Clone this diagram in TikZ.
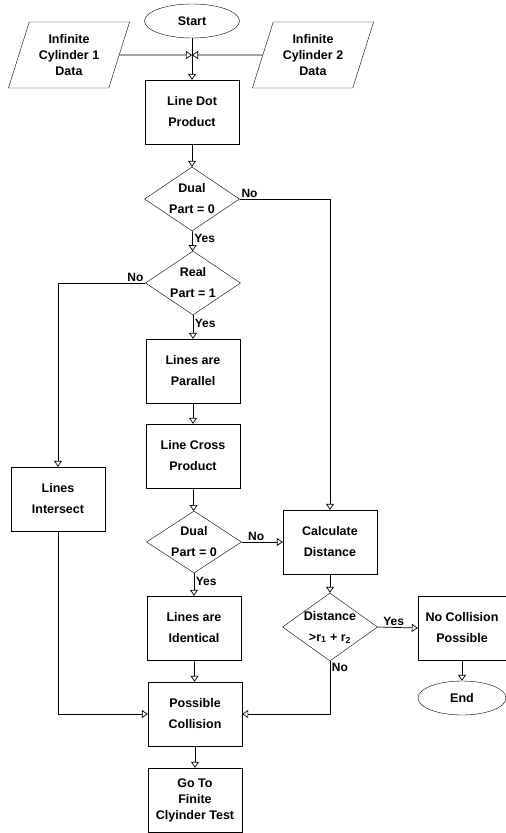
\documentclass[tikz,border=0pt]{standalone}
\usepackage{fontspec}
\setmainfont{Liberation Sans}
\usetikzlibrary{arrows.meta,shapes.geometric,positioning}
\tikzset{
  txt/.style={font=\bfseries\fontsize{12.5}{21}\selectfont, align=center},
  box/.style={draw, rectangle, txt, minimum width=94pt, minimum height=64pt, inner sep=1pt},
  term/.style={draw, ellipse, txt, minimum width=95pt, minimum height=34pt, inner sep=0pt},
  io/.style={draw, trapezium, trapezium left angle=69, trapezium right angle=111, trapezium stretches=true,
    txt, font=\bfseries\fontsize{12.5}{16}\selectfont, minimum width=122pt, minimum height=66pt, inner sep=0pt},
  decision/.style={draw, diamond, minimum width=95pt, minimum height=64pt, inner sep=0pt},
  flow/.style={double, double distance=1.5pt, line width=0.7pt, -{Triangle[open, length=6pt, width=8pt]}},
  lbl/.style={font=\bfseries\fontsize{12}{14}\selectfont, inner sep=1.5pt},
  hv/.style={to path={-| (\tikztotarget) \tikztonodes}},
  vh/.style={to path={|- (\tikztotarget) \tikztonodes}}
}
\begin{document}
\begin{tikzpicture}[x=1pt,y=-1pt]
\useasboundingbox (0,0) rectangle (506,833);
% terminals and data
\node[term] (start) at (192,21) {Start};
\node[io] (data1) at (69,55) {Infinite\\Cylinder 1\\Data};
\node[io] (data2) at (313,55) {Infinite\\Cylinder 2\\Data};
\coordinate (join) at (192,55);
% main column
\node[box] (dot) at (192,112) {Line Dot\\Product};
\node[decision, label={[txt]center:Dual\\Part = 0}] (dual1) at (192,199) {};
\node[decision, label={[txt]center:Real\\Part = 1}] (real) at (193,283) {};
\node[box] (par) at (193,371) {Lines are\\Parallel};
\node[box] (cross) at (193,456) {Line Cross\\Product};
\node[decision, minimum height=62pt, label={[txt]center:Dual\\Part = 0}] (dual2) at (194,542) {};
\node[box] (ident) at (194,628) {Lines are\\Identical};
\node[box] (poss) at (195,714) {Possible\\Collision};
\node[box, font=\bfseries\fontsize{12.5}{16}\selectfont] (goto) at (195,800) {Go To\\Finite\\Clyinder Test};
% side columns
\node[box] (isect) at (58,499) {Lines\\Intersect};
\node[box] (calc) at (330,542) {Calculate\\Distance};
\node[decision, minimum height=68pt, label={[txt]center:Distance\\>r\textsubscript{1} + r\textsubscript{2}}] (dist) at (330,627) {};
\node[box, minimum width=88pt] (nocol) at (462,628) {No Collision\\Possible};
\node[term, minimum width=88pt] (end) at (462,698) {End};
% connectors
\path[flow]
(start) edge (dot)
(data1.east) edge (join)
(data2.west) edge (join)
(dot) edge (dual1)
(dual1) edge node[lbl, right, pos=0.35]{Yes} (real)
(real) edge node[lbl, right, pos=0.35]{Yes} (par)
(par) edge (cross)
(cross) edge (dual2)
(dual2) edge node[lbl, right, pos=0.35]{Yes} (ident)
(dual2.east) edge node[lbl, above, pos=0.35]{No} (calc.west)
(calc) edge (dist)
(dist.east) edge node[lbl, above, pos=0.4]{Yes} (nocol.west)
(nocol) edge (end)
(ident) edge (poss)
(poss) edge (goto)
(dual1.east) edge[hv] node[lbl, above right, pos=0]{No} (calc.north)
(real.west) edge[hv] node[lbl, above left, pos=0]{No} (isect.north)
(isect.south) edge[vh] (poss.west)
(dist.south) edge[vh] node[lbl, below right, pos=0]{No} (poss.east);
\end{tikzpicture}
\end{document}
